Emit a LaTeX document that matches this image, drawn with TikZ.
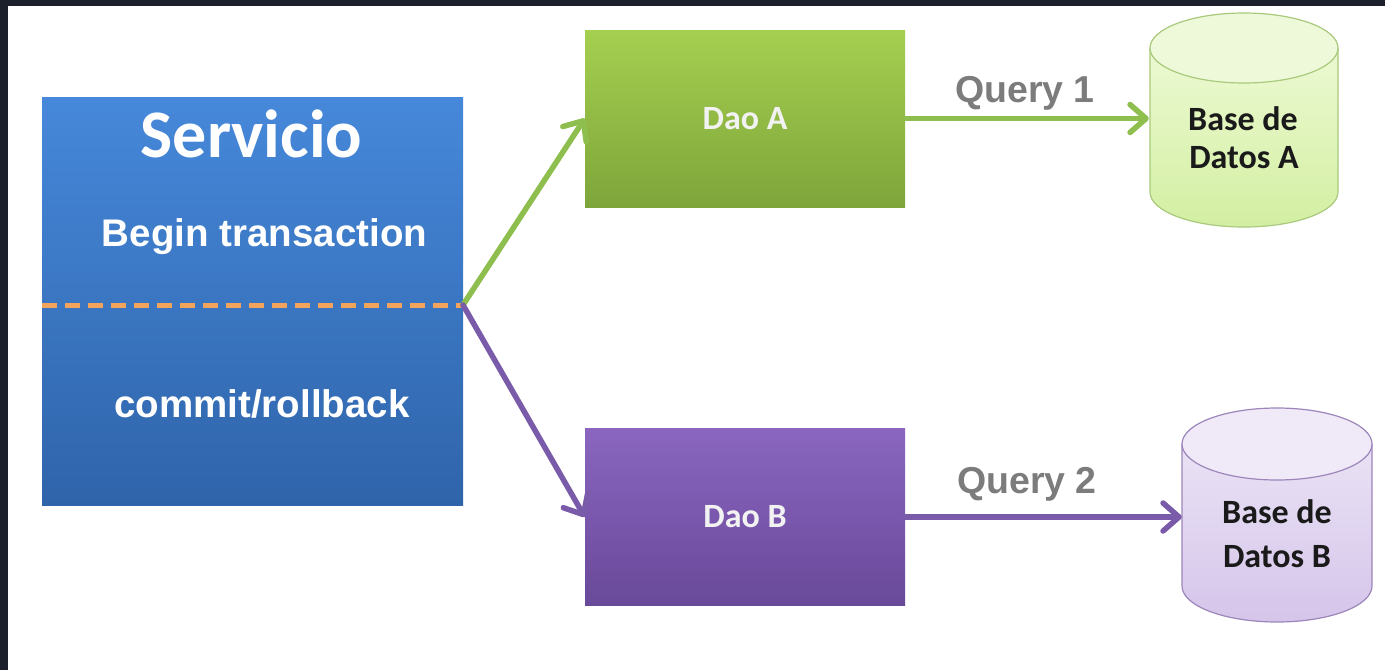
\documentclass[tikz,border=0pt]{standalone}
\usepackage{fontspec}
\newfontfamily\arialfont{Liberation Sans}
\newfontfamily\califont{Carlito}
\usetikzlibrary{arrows.meta}

\definecolor{framedark}{HTML}{1B202B}
\definecolor{servtop}{HTML}{4688DA}
\definecolor{servbot}{HTML}{2F64AA}
\definecolor{greentop}{HTML}{A5CF50}
\definecolor{greenbot}{HTML}{7EA53A}
\definecolor{purptop}{HTML}{8A66C0}
\definecolor{purpbot}{HTML}{694999}
\definecolor{greenline}{HTML}{8DBE4E}
\definecolor{purpline}{HTML}{7A5BAA}
\definecolor{dashorange}{HTML}{F2A45C}
\definecolor{querygray}{HTML}{7C7C7C}
\definecolor{cylAtop}{HTML}{F1FBDC}
\definecolor{cylAbot}{HTML}{D3EFA2}
\definecolor{cylAcap}{HTML}{EEF9DA}
\definecolor{cylAedge}{HTML}{A9C97C}
\definecolor{cylBtop}{HTML}{EEE8F7}
\definecolor{cylBbot}{HTML}{D5C5EA}
\definecolor{cylBcap}{HTML}{EFE9F8}
\definecolor{cylBedge}{HTML}{9C86BA}
\definecolor{dbtext}{HTML}{1A1A1A}

\tikzset{
  servbox/.style={rectangle, inner sep=0, minimum width=421, minimum height=408,
    top color=servtop, bottom color=servbot},
  daobox/.style={rectangle, inner sep=0, minimum width=320, minimum height=177,
    text=white!95!black, font=\califont\bfseries\fontsize{34}{40}\selectfont},
  servtitle/.style={text=white, font=\califont\bfseries\fontsize{68}{80}\selectfont, inner sep=0, anchor=base},
  servtext/.style={text=white, font=\arialfont\bfseries\fontsize{38.5}{46}\selectfont, inner sep=0, anchor=base},
  querylbl/.style={text=querygray, font=\arialfont\bfseries\fontsize{37.5}{44}\selectfont, inner sep=0, anchor=base},
  dblbl/.style={text=dbtext, font=\califont\bfseries\fontsize{34}{42}\selectfont, inner sep=0, anchor=base},
  dbarea/.style={rectangle, inner sep=0, minimum width=190, minimum height=214},
  flow/.style={line width=5.5pt, line cap=round,
    -{Straight Barb[length=16pt, width=28pt, line cap=round, line join=round]}},
  splitline/.style={dashorange, line width=5pt, dash pattern=on 15pt off 8pt},
}

\begin{document}
\begin{tikzpicture}[x=1pt, y=-1pt]
  % canvas and dark frame along top and left edges
  \useasboundingbox (0,0) rectangle (1385,670);
  \fill[white] (0,0) rectangle (1385,670);
  \fill[framedark] (0,0) rectangle (1385,6);
  \fill[framedark] (0,0) rectangle (8,670);

  % service block
  \node[servbox] (serv) at (252.5,301) {};
  \node[servtitle] (servT) at (251.5,157) {Servicio};
  \node[servtext] (servB) at (264.5,246) {Begin transaction};
  \node[servtext] (servC) at (262,417) {commit/rollback};
  \coordinate (j) at (463,305);
  \draw[splitline] (serv.west |- j) -- (j);

  % DAO blocks
  \node[daobox, top color=greentop, bottom color=greenbot] (daoA) at (745,118.5) {Dao A};
  \node[daobox, top color=purptop, bottom color=purpbot] (daoB) at (745,517) {Dao B};

  % database A cylinder
  \path[top color=cylAtop, bottom color=cylAbot]
    (1150,48) -- (1150,192) arc[start angle=180, end angle=0, x radius=94, y radius=35]
    -- (1338,48) arc[start angle=0, end angle=-180, x radius=94, y radius=35] -- cycle;
  \draw[cylAedge, line width=1.2pt]
    (1150,48) -- (1150,192) arc[start angle=180, end angle=0, x radius=94, y radius=35]
    -- (1338,48);
  \draw[cylAedge, line width=1.2pt, fill=cylAcap] (1244,48) ellipse[x radius=94, y radius=35];
  \node[dbarea] (dbA) at (1244,120) {};
  \node[dblbl] (dbA1) at (1243,130) {Base de};
  \node[dblbl] (dbA2) at (1244,168) {Datos A};

  % database B cylinder
  \path[top color=cylBtop, bottom color=cylBbot]
    (1182,444) -- (1182,586) arc[start angle=180, end angle=0, x radius=95, y radius=36]
    -- (1372,444) arc[start angle=0, end angle=-180, x radius=95, y radius=36] -- cycle;
  \draw[cylBedge, line width=1.2pt]
    (1182,444) -- (1182,586) arc[start angle=180, end angle=0, x radius=95, y radius=36]
    -- (1372,444);
  \draw[cylBedge, line width=1.2pt, fill=cylBcap] (1277,444) ellipse[x radius=95, y radius=36];
  \node[dbarea] (dbB) at (1277,515) {};
  \node[dblbl] (dbB1) at (1277,523) {Base de};
  \node[dblbl] (dbB2) at (1277,567) {Datos B};

  % connectors
  \draw[flow, greenline] (j) -- (daoA.west);
  \draw[flow, purpline] (j) -- (daoB.west);
  \draw[flow, greenline] (daoA.east) -- (daoA.east -| dbA.west);
  \draw[flow, purpline] (daoB.east) -- (daoB.east -| dbB.west);
  \node[querylbl] (q1) at (1025,102) {Query 1};
  \node[querylbl] (q2) at (1027,493) {Query 2};
\end{tikzpicture}
\end{document}
